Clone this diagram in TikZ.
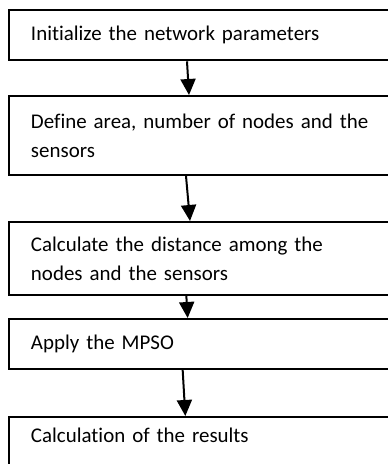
\documentclass[tikz,border=0pt]{standalone}
\usepackage{fontspec}
\setmainfont[Ligatures=NoCommon]{Carlito}
\usetikzlibrary{arrows.meta}
\begin{document}
\begin{tikzpicture}[x=0.75pt,y=-0.75pt,every node/.style={font=\fontsize{15.7pt}{22pt}\selectfont},stage/.style={draw,line width=1.5pt,anchor=north west,text width=300pt,inner xsep=16.5pt,align=left},>={Triangle[width=11.25pt,length=12pt]}]
\useasboundingbox (0,0) rectangle (388,464);
\clip (0,0) rectangle (388,464);
\node[stage,minimum height=37.5pt] (s1) at (8,9.3) {Initialize the network parameters};
\node[stage,minimum height=59.25pt] (s2) at (8,95) {Define area, number of nodes and the\\sensors};
\node[stage,minimum height=54.75pt] (s3) at (8,221) {Calculate the distance among the\\nodes and the sensors};
\node[stage,minimum height=37.5pt] (s4) at (8,318) {Apply the MPSO};
\node[stage,minimum height=50pt,text depth=22pt] (s5) at (8,416) {Calculation of the results};
\draw[->,line width=1.5pt] ([xshift=-33pt]s1.south)--([xshift=-31.5pt]s2.north);
\draw[->,line width=1.5pt] ([xshift=-33.75pt]s2.south)--([xshift=-30.75pt]s3.north);
\draw[->,line width=1.5pt] ([xshift=-33.5pt]s3.south)--([xshift=-32.5pt]s4.north);
\draw[->,line width=1.5pt] ([xshift=-36.25pt]s4.south)--([xshift=-34.25pt]s5.north);
\end{tikzpicture}
\end{document}
